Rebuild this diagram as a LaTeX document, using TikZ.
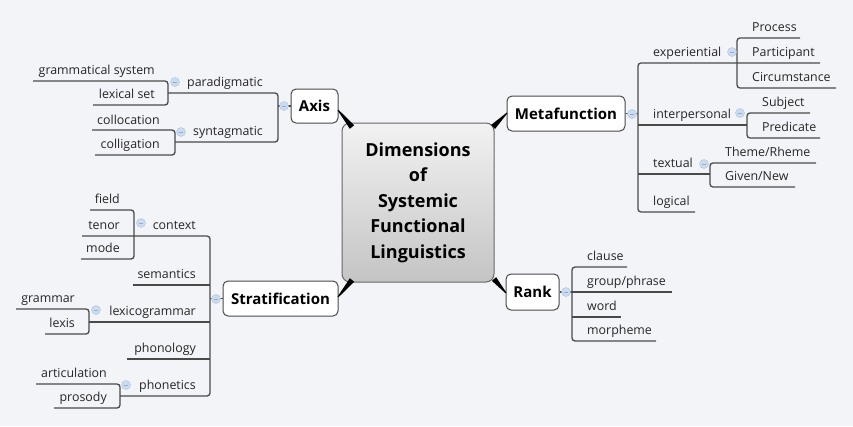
\documentclass[tikz,border=0pt]{standalone}
\usepackage{fontspec}
\setmainfont{Open Sans}
\usetikzlibrary{calc}
\definecolor{bg}{HTML}{F3F4F8}
\definecolor{ln}{HTML}{4A4A4A}
\definecolor{mk}{HTML}{CCDCEE}
\definecolor{mkb}{HTML}{A9C2DE}
\definecolor{mkm}{HTML}{8FAED3}
\definecolor{ctop}{HTML}{F2F2F2}
\definecolor{cbot}{HTML}{C4C4C4}
\newcommand\taper[2]{\fill[black] ($(#2)!2.8pt!90:(#1)$) -- ($(#2)!2.8pt!-90:(#1)$) -- ($(#1)!0.5pt!90:(#2)$) -- ($(#1)!0.5pt!-90:(#2)$) -- cycle;}
\begin{document}
\begin{tikzpicture}[x=1pt,y=-1pt,
 leaf/.style={font=\fontsize{12.4}{14}\selectfont, text=black!85, inner sep=0pt, anchor=base west},
 leafr/.style={leaf, anchor=base east},
 topic/.style={draw=ln, fill=white, rounded corners=5pt, line width=1pt, font=\fontsize{15}{18}\selectfont\bfseries, inner sep=0pt},
 br/.style={draw=ln, line width=1.3pt, rounded corners=3pt},
 marker/.style={circle, fill=mk, draw=mkb, line width=0.4pt, minimum size=9pt, inner sep=0pt,
   path picture={\draw[mkm, line width=0.8pt] ([xshift=-2.3pt]path picture bounding box.center) -- ([xshift=2.3pt]path picture bounding box.center);}},
]
\fill[bg] (0,0) rectangle (853,426);
\useasboundingbox (0,0) rectangle (853,426);

% central topic
\node[draw=black!60, line width=1pt, rounded corners=8pt, top color=ctop, bottom color=cbot,
  minimum width=152pt, minimum height=159pt, align=center, inner sep=0pt,
  font=\fontsize{18}{25.5}\selectfont\bfseries] (center) at (418,202.5)
  {Dimensions\\of\\Systemic\\Functional\\Linguistics};

% main topics
\node[topic, minimum width=47pt, minimum height=34pt] (axis) at (314.5,106) {Axis};
\node[topic, minimum width=118pt, minimum height=35pt] (meta) at (566,113.5) {Metafunction};
\node[topic, minimum width=115pt, minimum height=35pt] (strat) at (280.5,298.5) {Stratification};
\node[topic, minimum width=53pt, minimum height=36pt] (rank) at (532.5,292) {Rank};

% tapered connectors
\coordinate (axA) at (338,110); \coordinate (axB) at (352,127);
\coordinate (meA) at (507,113); \coordinate (meB) at (493,127);
\coordinate (stA) at (338,297); \coordinate (stB) at (352,280);
\coordinate (raA) at (506,293); \coordinate (raB) at (494,279);
\taper{axA}{axB}
\taper{meA}{meB}
\taper{stA}{stB}
\taper{raA}{raB}

% ---------- Axis ----------
\coordinate (axJ) at (278,106);
\draw[br] (axis.west) -- (axJ);
\draw[br] (168,93) -- (278,93) -- (278,142) -- (175,142);
\node[leaf] (para) at (187,86) {paradigmatic};
\node[leaf] (synt) at (193,135) {syntagmatic};
\draw[br] (33,81) -- (168,81) -- (168,105) -- (93,105);
\node[leafr] (gs) at (155,74) {grammatical system};
\node[leafr] (ls) at (155,98) {lexical set};
\draw[br] (92,130) -- (175,130) -- (175,155) -- (95,155);
\node[leafr] (coll) at (160,124) {collocation};
\node[leafr] (colg) at (160,148) {colligation};

% ---------- Metafunction ----------
\coordinate (meJ) at (638,113.5);
\draw[br] (meta.east) -- (meJ);
\draw[br] (820,63) -- (638,63) -- (638,212) -- (695,212);
\draw[br] (638,125) -- (747,125);
\draw[br] (638,174) -- (710,174);
\node[leaf] (exp) at (653,56) {experiential};
\node[leaf] (inter) at (653,118) {interpersonal};
\node[leaf] (text) at (653,167) {textual};
\node[leaf] (logi) at (653,205) {logical};
\draw[br] (800,38) -- (737,38) -- (737,88) -- (836,88);
\node[leaf] (proc) at (752,31) {Process};
\node[leaf] (part) at (752,56) {Participant};
\node[leaf] (circ) at (752,81) {Circumstance};
\draw[br] (810,113) -- (747,113) -- (747,138) -- (820,138);
\node[leaf] (subj) at (762,106) {Subject};
\node[leaf] (pred) at (762,131) {Predicate};
\draw[br] (816,163) -- (710,163) -- (710,187) -- (795,187);
\node[leaf] (theme) at (725,156) {Theme/Rheme};
\node[leaf] (given) at (725,180) {Given/New};

% ---------- Stratification ----------
\coordinate (stJ) at (210,298.5);
\draw[br] (strat.west) -- (stJ);
\draw[br] (82,236) -- (210,236) -- (210,396) -- (120,396);
\draw[br] (133,285) -- (210,285);
\draw[br] (89,322) -- (210,322);
\draw[br] (127,359) -- (210,359);
\node[leafr] (ctx) at (196,229) {context};
\node[leafr] (sem) at (196,278) {semantics};
\node[leafr] (lexg) at (196,315) {lexicogrammar};
\node[leafr] (phon) at (196,352) {phonology};
\node[leafr] (phot) at (196,389) {phonetics};
\draw[br] (90,210) -- (134,210) -- (134,259) -- (81,259);
\node[leafr] (field) at (120,203) {field};
\node[leafr] (tenor) at (120,229) {tenor};
\node[leafr] (mode) at (120,252) {mode};
\draw[br] (16,309) -- (89,309) -- (89,334) -- (45,334);
\node[leafr] (gram) at (75,302) {grammar};
\node[leafr] (lexis) at (75,327) {lexis};
\draw[br] (36,384) -- (120,384) -- (120,408) -- (54,408);
\node[leafr] (artic) at (107,377) {articulation};
\node[leafr] (pros) at (107,401) {prosody};

% ---------- Rank ----------
\coordinate (raJ) at (572,292);
\draw[br] (rank.east) -- (raJ);
\draw[br] (627,267) -- (572,267) -- (572,341) -- (656,341);
\draw[br] (572,292) -- (672,292);
\draw[br] (572,317) -- (621,317);
\node[leaf] (clause) at (587,260) {clause};
\node[leaf] (group) at (587,285) {group/phrase};
\node[leaf] (word) at (587,310) {word};
\node[leaf] (morph) at (587,334) {morpheme};

% ---------- collapse markers ----------
\node[marker] (mAxis) at (284,106) {};
\node[marker] (mPara) at (175,82) {};
\node[marker] (mSynt) at (181,132) {};
\node[marker] (mMeta) at (632,114) {};
\node[marker] (mExp) at (732,52) {};
\node[marker] (mInt) at (740,113) {};
\node[marker] (mTxt) at (704,164) {};
\node[marker] (mStrat) at (216,299) {};
\node[marker] (mCtx) at (141,223) {};
\node[marker] (mLex) at (96,310) {};
\node[marker] (mPhon) at (126,385) {};
\node[marker] (mRank) at (566,292) {};
\end{tikzpicture}
\end{document}
